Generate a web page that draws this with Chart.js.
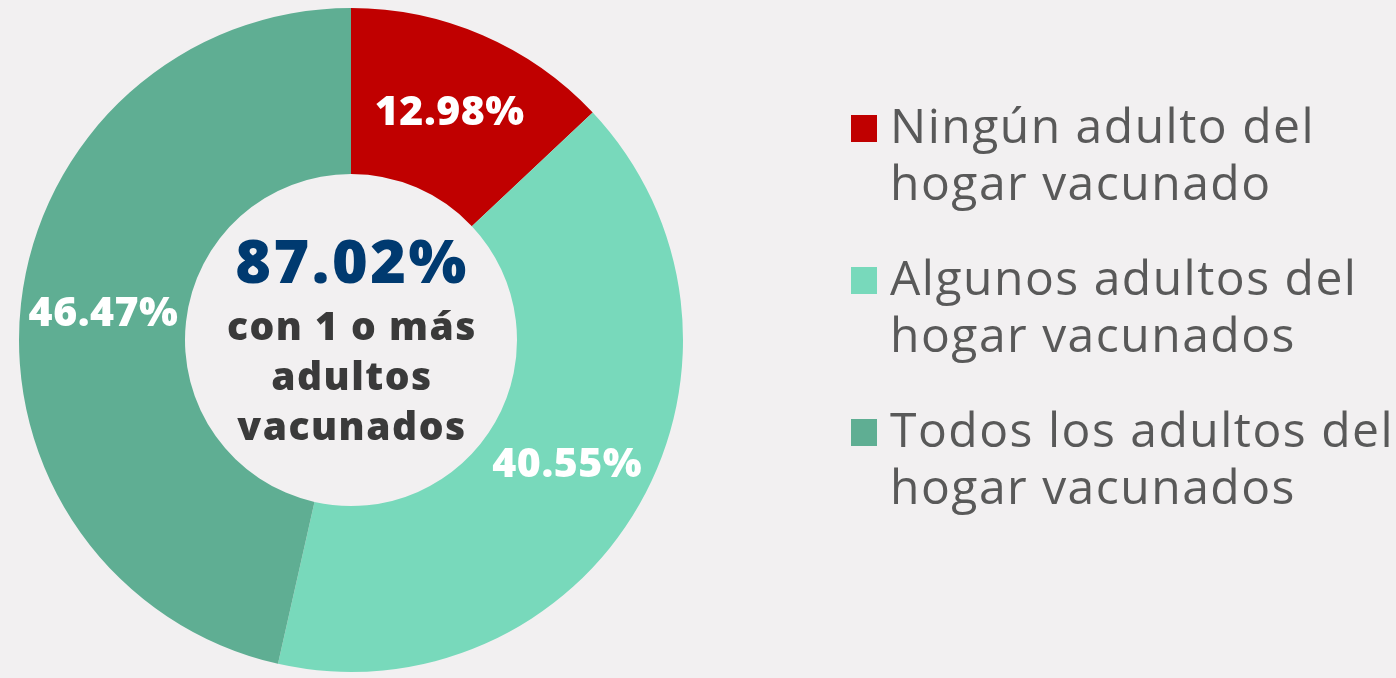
<!DOCTYPE html>
<html>
<head>
<meta charset="utf-8">
<script src="https://cdn.jsdelivr.net/npm/chart.js@4"></script>
<style>
  html, body { margin: 0; padding: 0; background: #F2F0F1; }
  #wrap { width: 1396px; height: 678px; position: relative; }
</style>
</head>
<body>
<div id="wrap"><canvas id="donut"></canvas></div>
<script>
// Data
const categories = [
    ['Ningún adulto del', 'hogar vacunado'],
    ['Algunos adultos del', 'hogar vacunados'],
    ['Todos los adultos del', 'hogar vacunados']
];
const shares = [12.98, 40.55, 46.47];
const sliceColors = ['#C00000', '#78D9BB', '#5FAE93'];
const centerValue = '87.02%';
const centerCaption = ['con 1 o más', 'adultos', 'vacunados'];

const boldFont = '"Open Sans", sans-serif';

// Percent labels inside slices + center text + legend on the right
const overlayPlugin = {
    id: 'overlay',
    afterDraw(chart) {
        const ctx = chart.ctx;
        const meta = chart.getDatasetMeta(0);
        ctx.save();
        ctx.textAlign = 'center';
        ctx.textBaseline = 'alphabetic';

        // slice labels
        ctx.fillStyle = '#FFFFFF';
        ctx.font = '800 41px ' + boldFont;
        ctx.letterSpacing = '0.5px';
        meta.data.forEach((arc, i) => {
            const p = arc.tooltipPosition();
            ctx.fillText(shares[i].toFixed(2) + '%', p.x, p.y + 14);
        });

        // center text
        const cx = meta.data[0].x;
        const cy = meta.data[0].y;
        ctx.letterSpacing = '2.5px';
        ctx.fillStyle = '#003A70';
        ctx.font = '800 61px ' + boldFont;
        ctx.fillText(centerValue, cx + 1, cy - 57);
        ctx.letterSpacing = '1.5px';
        ctx.fillStyle = '#3A3A3A';
        ctx.font = '800 39px ' + boldFont;
        centerCaption.forEach((line, i) => {
            ctx.fillText(line, cx + 1, cy + i * 50);
        });

        // legend
        ctx.textAlign = 'left';
        ctx.font = '400 48px "Open Sans", sans-serif';
        ctx.letterSpacing = '1.5px';
        categories.forEach((lines, i) => {
            const base = 143 + i * 152;
            ctx.fillStyle = sliceColors[i];
            ctx.fillRect(851, base - 28, 26, 27);
            ctx.fillStyle = '#595959';
            lines.forEach((t, j) => ctx.fillText(t, 890, base + j * 57));
        });
        ctx.restore();
    }
};

new Chart(document.getElementById('donut'), {
    type: 'doughnut',
    data: {
        labels: categories,
        datasets: [{
            data: shares,
            backgroundColor: sliceColors,
            borderWidth: 0
        }]
    },
    options: {
        responsive: true,
        maintainAspectRatio: false,
        animation: false,
        cutout: '50%',
        layout: { padding: { left: 15, right: 709, top: 8, bottom: 6 } },
        plugins: {
            legend: { display: false },
            tooltip: { enabled: false }
        }
    },
    plugins: [overlayPlugin]
});
</script>
</body>
</html>
